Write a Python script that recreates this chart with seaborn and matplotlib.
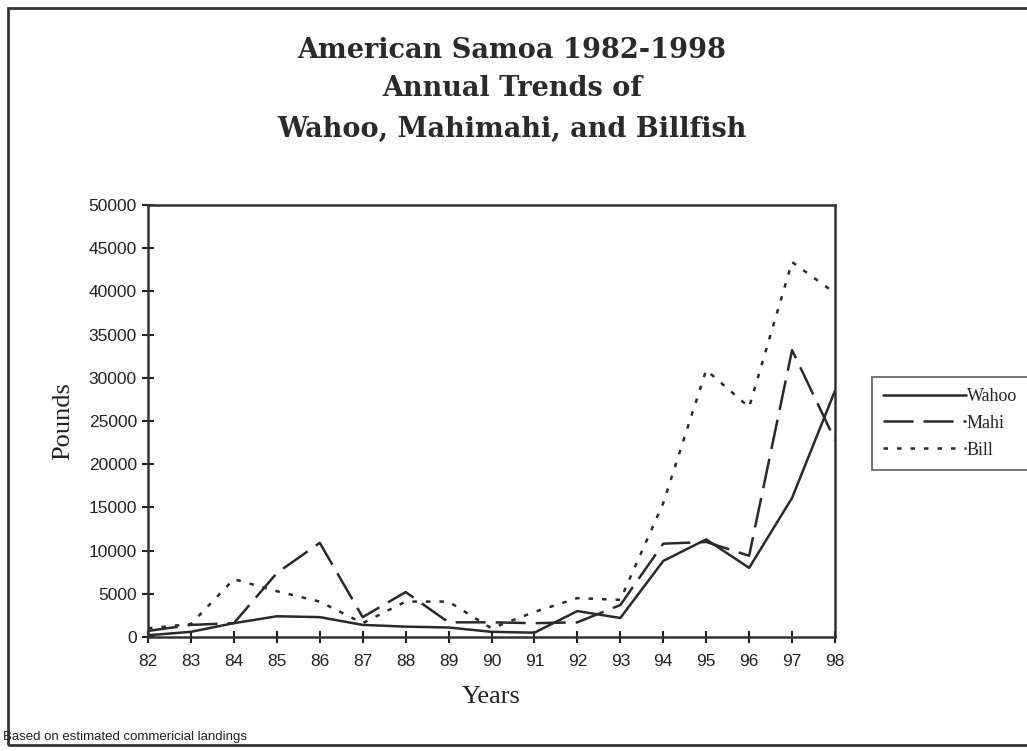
import matplotlib
matplotlib.use("Agg")
import matplotlib.pyplot as plt
import seaborn as sns
import pandas as pd
from matplotlib.patches import Rectangle

years = [82, 83, 84, 85, 86, 87, 88, 89, 90, 91, 92, 93, 94, 95, 96, 97, 98]
wahoo = [200, 600, 1600, 2400, 2300, 1400, 1200, 1100, 600, 500, 3000, 2200, 8800, 11300, 8000, 16100, 28500]
mahi = [700, 1400, 1600, 7400, 10900, 2300, 5200, 1700, 1700, 1600, 1700, 3700, 10800, 11000, 9400, 33200, 22800]
bill = [1000, 1500, 6700, 5300, 4100, 1600, 4100, 4100, 1000, 2900, 4500, 4300, 15500, 30900, 26600, 43400, 39800]
series_names = ["Wahoo", "Mahi", "Bill"]

df = pd.DataFrame({"Year": years * 3,
                   "Pounds": wahoo + mahi + bill,
                   "Species": sum([[n] * len(years) for n in series_names], [])})

sns.set_style("white")
plt.rcParams["font.family"] = ["Liberation Sans", "DejaVu Sans"]

fig = plt.figure(figsize=(10.27, 7.51), dpi=100)
ax = fig.add_axes([148 / 1027, 1 - 637 / 751, (835 - 148) / 1027, (637 - 205) / 751])

for name in series_names:
    sub = df[df["Species"] == name]
    sns.lineplot(data=sub, x="Year", y="Pounds", ax=ax, color="#2a2a2a", lw=1.8,
                 label=name, legend=False)
lines = ax.get_lines()
lines[1].set_dashes((12, 4))
lines[2].set_dashes((1.8, 3.6))

ax.set_xlim(82, 98)
ax.set_ylim(0, 50000)
ax.set_xticks(years)
ax.set_xticklabels([str(y) for y in years])
ax.set_yticks(range(0, 50001, 5000))
ax.tick_params(axis="both", direction="inout", length=9, width=1.5, labelsize=12.5,
               colors="#222222", left=True, bottom=True)
ax.tick_params(axis="x", pad=8)
for sp in ax.spines.values():
    sp.set_color("#333333")
    sp.set_linewidth(1.8)
ax.set_xlabel("Years", family="Liberation Serif", fontsize=19, color="#222222", labelpad=12)
ax.set_ylabel("Pounds", family="Liberation Serif", fontsize=19, color="#222222", labelpad=10)

leg = ax.legend(handles=lines, labels=series_names, loc="upper left",
                bbox_to_anchor=(872 / 1027, 1 - 377 / 751), bbox_transform=fig.transFigure,
                borderaxespad=0, frameon=True, fancybox=False, handlelength=4.6,
                handletextpad=0.05, borderpad=0.6, labelspacing=0.55,
                prop={"family": "Liberation Serif", "size": 13})
leg.get_frame().set_edgecolor("#333333")
leg.get_frame().set_linewidth(1.2)

fig.text(512 / 1027, 1 - 50 / 751, "American Samoa 1982-1998", ha="center", va="center",
         family="DejaVu Serif", weight="bold", fontsize=19.5, color="#2a2a2a")
fig.text(512 / 1027, 1 - 89 / 751, "Annual Trends of", ha="center", va="center",
         family="DejaVu Serif", weight="bold", fontsize=19.5, color="#2a2a2a")
fig.text(512 / 1027, 1 - 129 / 751, "Wahoo, Mahimahi, and Billfish", ha="center", va="center",
         family="DejaVu Serif", weight="bold", fontsize=19.5, color="#2a2a2a")
fig.text(3 / 1027, 1 - 737 / 751, "Based on estimated commericial landings", ha="left", va="center",
         fontsize=9.5, color="#222222")

fig.patches.append(Rectangle((8 / 1027, 6 / 751), 1.0, 1 - 14 / 751, transform=fig.transFigure,
                             fill=False, edgecolor="#333333", lw=2))

fig.savefig("out.png", dpi=100)
